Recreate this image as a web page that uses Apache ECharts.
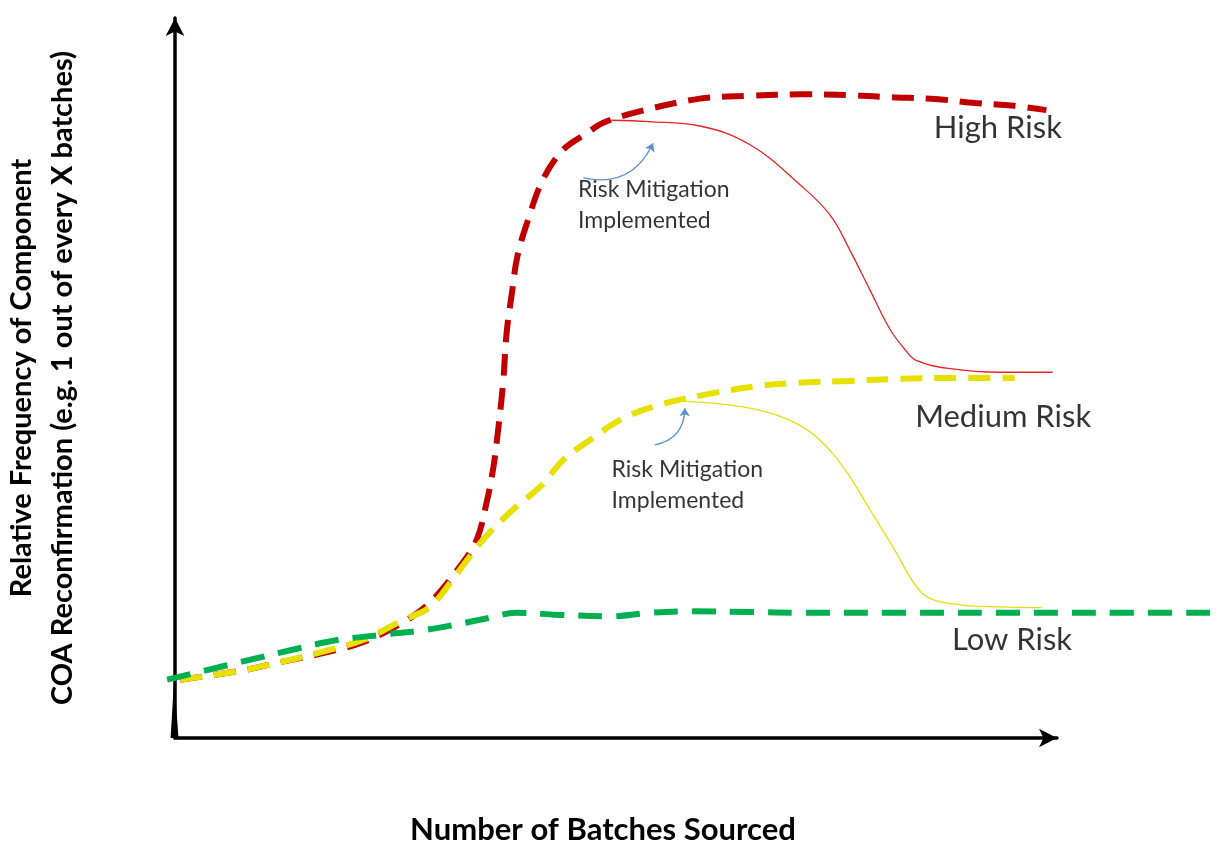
<!DOCTYPE html>
<html>
<head>
<meta charset="utf-8">
<title>COA Reconfirmation Frequency</title>
<script src="https://cdn.jsdelivr.net/npm/echarts@6/dist/echarts.min.js"></script>
<style>
  html, body { margin: 0; padding: 0; background: #fff; }
  #chart { width: 1225px; height: 846px; }
</style>
</head>
<body>
<div id="chart"></div>
<script>
// 数据（横轴: 批次数，纵轴: 相对频率，均为 0-100 的示意单位）
var highRiskX = [0.6, 7.7, 12.2, 16.8, 21.3, 25.9, 28.9, 32.3, 34.2, 35.4, 36.1, 36.6, 37.2, 37.6, 38.2, 38.8, 39.9, 41.7, 44.0, 46.7, 48.5, 51.9, 59.5, 65.2, 70.9, 76.5, 81.1, 86.2, 90.7, 95.2, 98.8];
var highRiskY = [8.1, 9.4, 10.6, 11.8, 13.3, 16.1, 18.8, 23.8, 27.5, 33.1, 37.6, 42.4, 49.3, 56.3, 61.8, 66.8, 71.5, 77.5, 81.7, 84.0, 85.4, 86.8, 88.8, 89.2, 89.4, 89.3, 89.0, 88.75, 88.2, 87.8, 87.2];

var highMitX = [49.5, 53.7, 59.5, 65.2, 70.9, 74.3, 76.5, 78.8, 81.1, 82.8, 84.1, 87.9, 93.5, 99.5];
var highMitY = [85.8, 85.6, 85.0, 82.4, 76.8, 72.6, 67.8, 62.2, 56.7, 53.9, 52.4, 51.3, 50.8, 50.8];

var medRiskX = [0.6, 7.7, 12.2, 16.8, 21.3, 25.9, 28.9, 32.0, 34.9, 38.3, 41.4, 44.0, 46.7, 50.8, 55.3, 61.0, 65.6, 70.1, 76.5, 82.2, 87.9, 95.2];
var medRiskY = [8.1, 9.4, 10.6, 12.0, 13.6, 16.4, 18.2, 22.9, 27.5, 31.7, 34.9, 38.6, 41.1, 44.4, 46.4, 47.9, 48.8, 49.3, 49.6, 49.9, 50.0, 50.0];

var medMitX = [57.3, 61.0, 65.6, 70.1, 73.1, 76.0, 78.8, 81.6, 83.9, 85.6, 89.0, 93.5, 98.3];
var medMitY = [46.8, 46.5, 45.7, 43.9, 41.4, 37.2, 31.7, 26.1, 21.3, 19.4, 18.5, 18.2, 18.1];

var lowRiskX = [-0.9, 5.9, 9.3, 13.8, 18.4, 23.2, 27.8, 31.2, 35.7, 38.6, 43.6, 49.3, 53.9, 58.4, 65.2, 70.9, 82.2, 93.5, 104.9, 118.7];
var lowRiskY = [8.1, 10.1, 11.1, 12.4, 13.6, 14.3, 14.9, 15.6, 16.7, 17.4, 17.1, 16.9, 17.4, 17.6, 17.5, 17.4, 17.4, 17.4, 17.4, 17.4];

// 原点处的小黑三角（原图手绘痕迹）
var originSpikeX = [-0.5, -0.1, 0.4];
var originSpikeY = [0, 8.1, 0];

var riskLabels = ['High Risk', 'Medium Risk', 'Low Risk'];
var mitigationLabel = 'Risk Mitigation\nImplemented';

function pairs(xs, ys) {
    return xs.map(function (x, i) { return [x, ys[i]]; });
}

var chart = echarts.init(document.getElementById('chart'));
var font = 'Lato, "Open Sans", sans-serif';

// 所有曲线画在第二个 grid 上（和坐标轴同比例，只是向右延伸到画布边缘）
var dashedLine = function (name, color, xs, ys, dash) {
    return {
        name: name,
        type: 'line',
        xAxisIndex: 1,
        yAxisIndex: 1,
        data: pairs(xs, ys),
        smooth: 0.35,
        symbol: 'none',
        lineStyle: { color: color, width: 6, type: dash, cap: 'butt' },
        z: 3
    };
};
var solidLine = function (name, color, xs, ys) {
    return {
        name: name,
        type: 'line',
        xAxisIndex: 1,
        yAxisIndex: 1,
        data: pairs(xs, ys),
        smooth: 0.4,
        symbol: 'none',
        lineStyle: { color: color, width: 1.3 },
        z: 2
    };
};
var hiddenAxis = {
    axisLine: { show: false },
    axisTick: { show: false },
    axisLabel: { show: false },
    splitLine: { show: false }
};

var option = {
    backgroundColor: '#FFFFFF',
    animation: false,
    grid: [
        { left: 175, right: 168, top: 18, bottom: 108, outerBoundsMode: 'none', containLabel: false },
        { left: 157.36, right: 0.44, top: 18, bottom: 108, outerBoundsMode: 'none', containLabel: false }
    ],
    xAxis: [{
        type: 'value',
        gridIndex: 0,
        min: 0,
        max: 100,
        name: 'Number of Batches Sourced',
        nameLocation: 'middle',
        nameGap: 76,
        nameTextStyle: { fontFamily: font, fontWeight: 'bold', fontSize: 31, color: '#000', padding: [0, 26, 0, 0] },
        axisLine: { lineStyle: { color: '#000', width: 3.5 }, symbol: ['none', 'arrow'], symbolSize: [14, 18] },
        axisTick: { show: false },
        axisLabel: { show: false },
        splitLine: { show: false }
    }, Object.assign({ type: 'value', gridIndex: 1, min: -2, max: 119 }, hiddenAxis)],
    yAxis: [{
        type: 'value',
        gridIndex: 0,
        min: 0,
        max: 100,
        name: 'Relative Frequency of Component\nCOA Reconfirmation (e.g. 1 out of every X batches)',
        nameLocation: 'middle',
        nameGap: 92,
        nameTextStyle: { fontFamily: font, fontWeight: 'bold', fontSize: 29, color: '#000', lineHeight: 41 },
        axisLine: { lineStyle: { color: '#000', width: 3.5 }, symbol: ['none', 'arrow'], symbolSize: [14, 18] },
        axisTick: { show: false },
        axisLabel: { show: false },
        splitLine: { show: false }
    }, Object.assign({ type: 'value', gridIndex: 1, min: 0, max: 100 }, hiddenAxis)],
    series: [
        {
            name: 'origin spike',
            type: 'line',
            xAxisIndex: 1,
            yAxisIndex: 1,
            data: pairs(originSpikeX, originSpikeY),
            symbol: 'none',
            silent: true,
            lineStyle: { width: 0 },
            areaStyle: { color: '#000', opacity: 1 },
            z: 1
        },
        solidLine('High Risk mitigated', '#E32525', highMitX, highMitY),
        solidLine('Medium Risk mitigated', '#E6DE10', medMitX, medMitY),
        dashedLine('High Risk', '#C00000', highRiskX, highRiskY, [22, 12]),
        dashedLine('Medium Risk', '#E8E000', medRiskX, medRiskY, [22, 12]),
        dashedLine('Low Risk', '#00B050', lowRiskX, lowRiskY, [24, 14]),
        {
            name: 'labels',
            type: 'scatter',
            xAxisIndex: 1,
            yAxisIndex: 1,
            symbolSize: 0,
            silent: true,
            label: {
                show: true,
                position: 'inside',
                formatter: '{b}',
                fontFamily: font,
                fontSize: 31,
                color: '#000'
            },
            data: [
                { name: riskLabels[0], value: [93.3, 84.7] },
                { name: riskLabels[1], value: [93.9, 44.6] },
                { name: riskLabels[2], value: [94.9, 13.6] }
            ]
        },
        {
            name: 'notes',
            type: 'scatter',
            xAxisIndex: 1,
            yAxisIndex: 1,
            symbolSize: 0,
            silent: true,
            label: {
                show: true,
                position: 'right',
                distance: 0,
                formatter: '{b}',
                fontFamily: font,
                fontSize: 23,
                lineHeight: 31,
                color: '#000'
            },
            data: [
                { name: mitigationLabel, value: [45.7, 74.0] },
                { name: mitigationLabel, value: [49.5, 35.1] }
            ]
        },
        {
            name: 'arrows',
            type: 'lines',
            coordinateSystem: 'cartesian2d',
            xAxisIndex: 1,
            yAxisIndex: 1,
            silent: true,
            symbol: ['none', 'arrow'],
            symbolSize: 8,
            lineStyle: { color: '#5B8FD0', width: 1.3, curveness: -0.4, opacity: 1 },
            data: [
                { coords: [[46.3, 77.8], [54.2, 82.6]] },
                { coords: [[54.4, 40.7], [57.8, 45.8]] }
            ]
        }
    ]
};

chart.setOption(option);
window.onresize = function () {
    chart.resize();
};
</script>
</body>
</html>
